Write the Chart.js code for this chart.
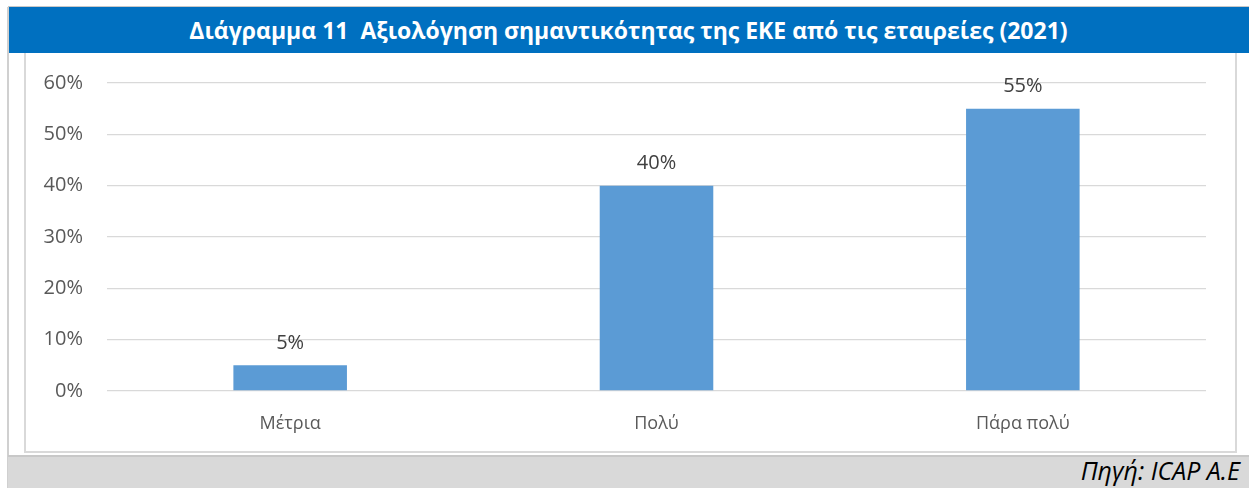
<!DOCTYPE html>
<html>
<head>
<meta charset="utf-8">
<script src="https://cdn.jsdelivr.net/npm/chart.js@4"></script>
<style>
  body { margin: 0; background: #fff; font-family: "Open Sans", "Noto Sans", sans-serif; }
  #wrap { position: relative; width: 1249px; height: 488px; overflow: hidden; }
  #topline { position: absolute; left: 8px; top: 6px; width: 1241px; height: 1px; background: #c8c8c8; }
  #title { position: absolute; left: 8px; top: 7px; width: 1241px; height: 46px; background: #0070C0;
           color: #fff; font-weight: bold; font-size: 23px; line-height: 46px; text-align: center; white-space: pre; }
  #leftline { position: absolute; left: 7px; top: 7px; width: 2px; height: 481px; background: #d0d0d0; }
  #box { position: absolute; left: 24px; top: 53px; width: 1209px; height: 398px; border: 2px solid #d9d9d9; border-top: none; }
  #footer { position: absolute; left: 8px; top: 455px; width: 1241px; height: 33px; background: #d9d9d9;
            border-top: 2px solid #c8c8c8; box-sizing: border-box; }
  #footer span { position: absolute; right: 9px; top: -4px; font-style: italic; font-size: 25px; color: #000; }
  #chartBox { position: absolute; left: 27px; top: 47px; width: 1207px; height: 404px; }
</style>
</head>
<body>
<div id="wrap">
  <div id="topline"></div>
  <div id="title">Διάγραμμα 11  Αξιολόγηση σημαντικότητας της ΕΚΕ από τις εταιρείες (2021)</div>
  <div id="leftline"></div>
  <div id="box"></div>
  <div id="footer"><span>Πηγή: ICAP A.E</span></div>
  <div id="chartBox"><canvas id="chart"></canvas></div>
</div>
<script>
// categories and values
const categories = ['Μέτρια', 'Πολύ', 'Πάρα πολύ'];
const shares = [5, 40, 55];
const yTicks = [0, 10, 20, 30, 40, 50, 60];

const fontFamily = '"Open Sans", "Noto Sans", sans-serif';

// labels above the bars
const valueLabels = {
  id: 'valueLabels',
  afterDatasetsDraw(chart) {
    const ctx = chart.ctx;
    const meta = chart.getDatasetMeta(0);
    ctx.save();
    ctx.font = '20px ' + fontFamily;
    ctx.fillStyle = '#404040';
    ctx.textAlign = 'center';
    ctx.textBaseline = 'bottom';
    meta.data.forEach((bar, i) => {
      ctx.fillText(shares[i] + '%', bar.x, bar.y - 12);
    });
    ctx.restore();
  }
};

new Chart(document.getElementById('chart'), {
  type: 'bar',
  data: {
    labels: categories,
    datasets: [{
      data: shares,
      backgroundColor: '#5B9BD5',
      barPercentage: 0.31,
      categoryPercentage: 1
    }]
  },
  options: {
    responsive: true,
    maintainAspectRatio: false,
    animation: false,
    layout: { padding: { top: 0, right: 28, left: 0, bottom: 0 } },
    plugins: { legend: { display: false }, tooltip: { enabled: false } },
    scales: {
      x: {
        grid: { display: false },
        border: { display: false },
        ticks: { color: '#595959', font: { size: 18, family: fontFamily }, padding: 14 },
        afterFit: s => { s.height = 60; }
      },
      y: {
        min: 0,
        max: 60,
        afterBuildTicks: s => { s.ticks = yTicks.map(v => ({ value: v })); },
        grid: { color: '#d9d9d9', lineWidth: 1.3, drawTicks: false },
        border: { display: false },
        ticks: {
          color: '#595959',
          font: { size: 20, family: fontFamily },
          padding: 24,
          callback: v => v + '%'
        },
        afterFit: s => { s.width = 80; }
      }
    }
  },
  plugins: [valueLabels]
});
</script>
</body>
</html>
